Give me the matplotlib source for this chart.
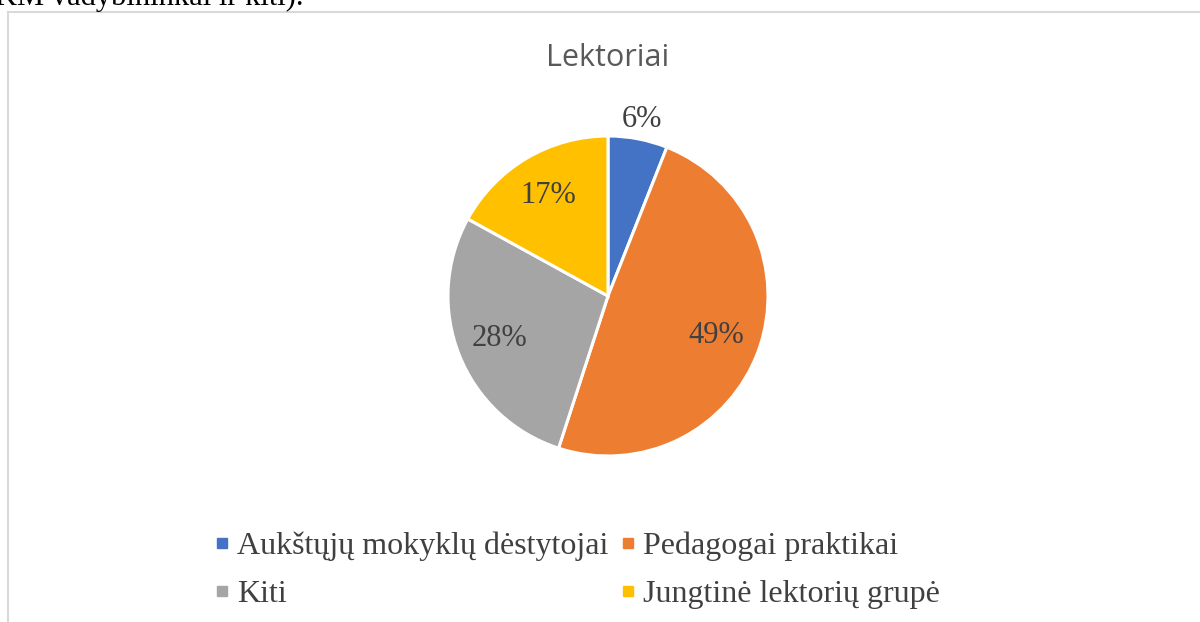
import matplotlib

matplotlib.use("Agg")
import matplotlib.pyplot as plt
from matplotlib.lines import Line2D
import numpy as np

# duomenys
categories = [
    "Aukštųjų mokyklų dėstytojai",
    "Pedagogai praktikai",
    "Kiti",
    "Jungtinė lektorių grupė",
]
shares = [6, 49, 28, 17]
colors = ["#4472C4", "#ED7D31", "#A5A5A5", "#FFC000"]
label_dist = [1.12, 0.72, 0.73, 0.73]

W, H = 1200, 622
fig = plt.figure(figsize=(W / 100, H / 100), dpi=100)

# nukirstas dokumento tekstas virsuje
fig.text(-0.004, 1 - 5 / H, "KM vadybininkai ir kiti).", family="Liberation Serif",
         fontsize=22, color="black", va="baseline", ha="left")

# diagramos remelis
border = "#D9D9D9"
fig.add_artist(Line2D([7.5 / W, 7.5 / W], [0, 1 - 11.5 / H], color=border, lw=1.5))
fig.add_artist(Line2D([7.5 / W, 1], [1 - 11.5 / H, 1 - 11.5 / H], color=border, lw=1.5))

cx, cy, r = 608, 296, 160
ax = fig.add_axes([(cx - r) / W, (H - cy - r) / H, 2 * r / W, 2 * r / H])
wedges, _ = ax.pie(shares, colors=colors, startangle=90, counterclock=False,
                   wedgeprops={"edgecolor": "white", "linewidth": 2.2})
ax.set_xlim(-1, 1)
ax.set_ylim(-1, 1)
ax.set_aspect("auto")
ax.axis("off")

for w, val, d in zip(wedges, shares, label_dist):
    mid = np.deg2rad((w.theta1 + w.theta2) / 2)
    ax.text(d * np.cos(mid), d * np.sin(mid), f"{val}%", ha="center", va="center",
            family="Liberation Serif", fontsize=22, color="#404040", clip_on=False)

fig.text(cx / W, 1 - 58 / H, "Lektoriai", ha="center", va="center",
         family="Open Sans", fontsize=22, color="#595959")

# legenda: eilutemis (column-major tvarka ncol=2)
order = [0, 2, 1, 3]
handles = [Line2D([], [], marker="s", linestyle="none", markersize=7.5,
                  markerfacecolor=colors[i], markeredgecolor=colors[i]) for i in order]
fig.legend(handles, [categories[i] for i in order], ncol=2, loc="upper left",
           bbox_to_anchor=(198 / W, 1 - 516 / H), frameon=False,
           prop={"family": "Liberation Serif", "size": 23},
           labelcolor="#404040", handlelength=0.5, handletextpad=0.22,
           columnspacing=0.35, labelspacing=0.58, borderpad=0)

fig.savefig("out.png", dpi=100)
